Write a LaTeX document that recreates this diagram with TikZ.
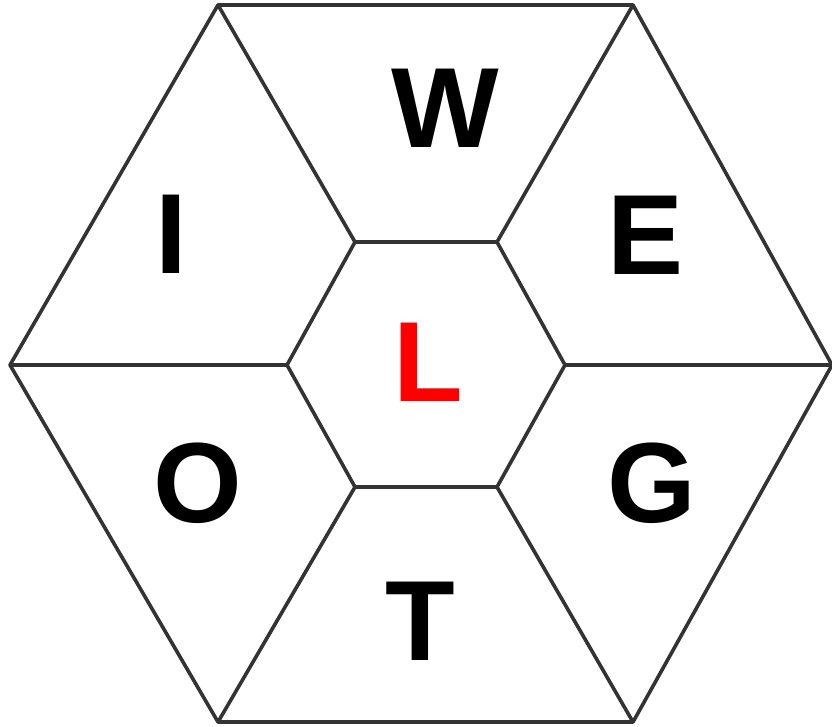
\documentclass[tikz,border=0pt]{standalone}
\usepackage{fontspec}
\setmainfont{Liberation Sans}
\usetikzlibrary{positioning}
\definecolor{edgegray}{RGB}{51,51,51}
\tikzset{
  cell/.style={draw=edgegray, line width=3.6pt, line join=round},
  letter/.style={font=\fontsize{114}{114}\selectfont\bfseries, inner sep=0pt}
}

\begin{document}
\begin{tikzpicture}[x=1pt,y=-1pt]
    \useasboundingbox (0,0) rectangle (832,726);
    % Outer hexagon
    \coordinate (o1) at (218,5);
    \coordinate (o2) at (633,5);
    \coordinate (o3) at (832,365);
    \coordinate (o4) at (633,722);
    \coordinate (o5) at (218,722);
    \coordinate (o6) at (10,365);
    \draw[cell] (o1) -- (o2) -- (o3) -- (o4) -- (o5) -- (o6) -- cycle;
    % Inner hexagon
    \coordinate (i1) at (355,242);
    \coordinate (i2) at (497,242);
    \coordinate (i3) at (565,365);
    \coordinate (i4) at (497,487);
    \coordinate (i5) at (355,487);
    \coordinate (i6) at (287,365);
    \draw[cell] (i1) -- (i2) -- (i3) -- (i4) -- (i5) -- (i6) -- cycle;
    % Spokes
    \foreach \k in {1,...,6}
        \draw[cell] (o\k) -- (i\k);
    % Letters
    \node[letter] (w) at (445,108) {W};
    \node[letter] (e) at (646,235) {E};
    \node[letter] (g) at (652,483) {G};
    \node[letter] (t) at (420,621) {T};
    \node[letter] (o) at (198,483) {O};
    \node[letter] (i) at (171,234) {I};
    \node[letter, text=red] (l) at (428,362) {L};
\end{tikzpicture}
\end{document}
